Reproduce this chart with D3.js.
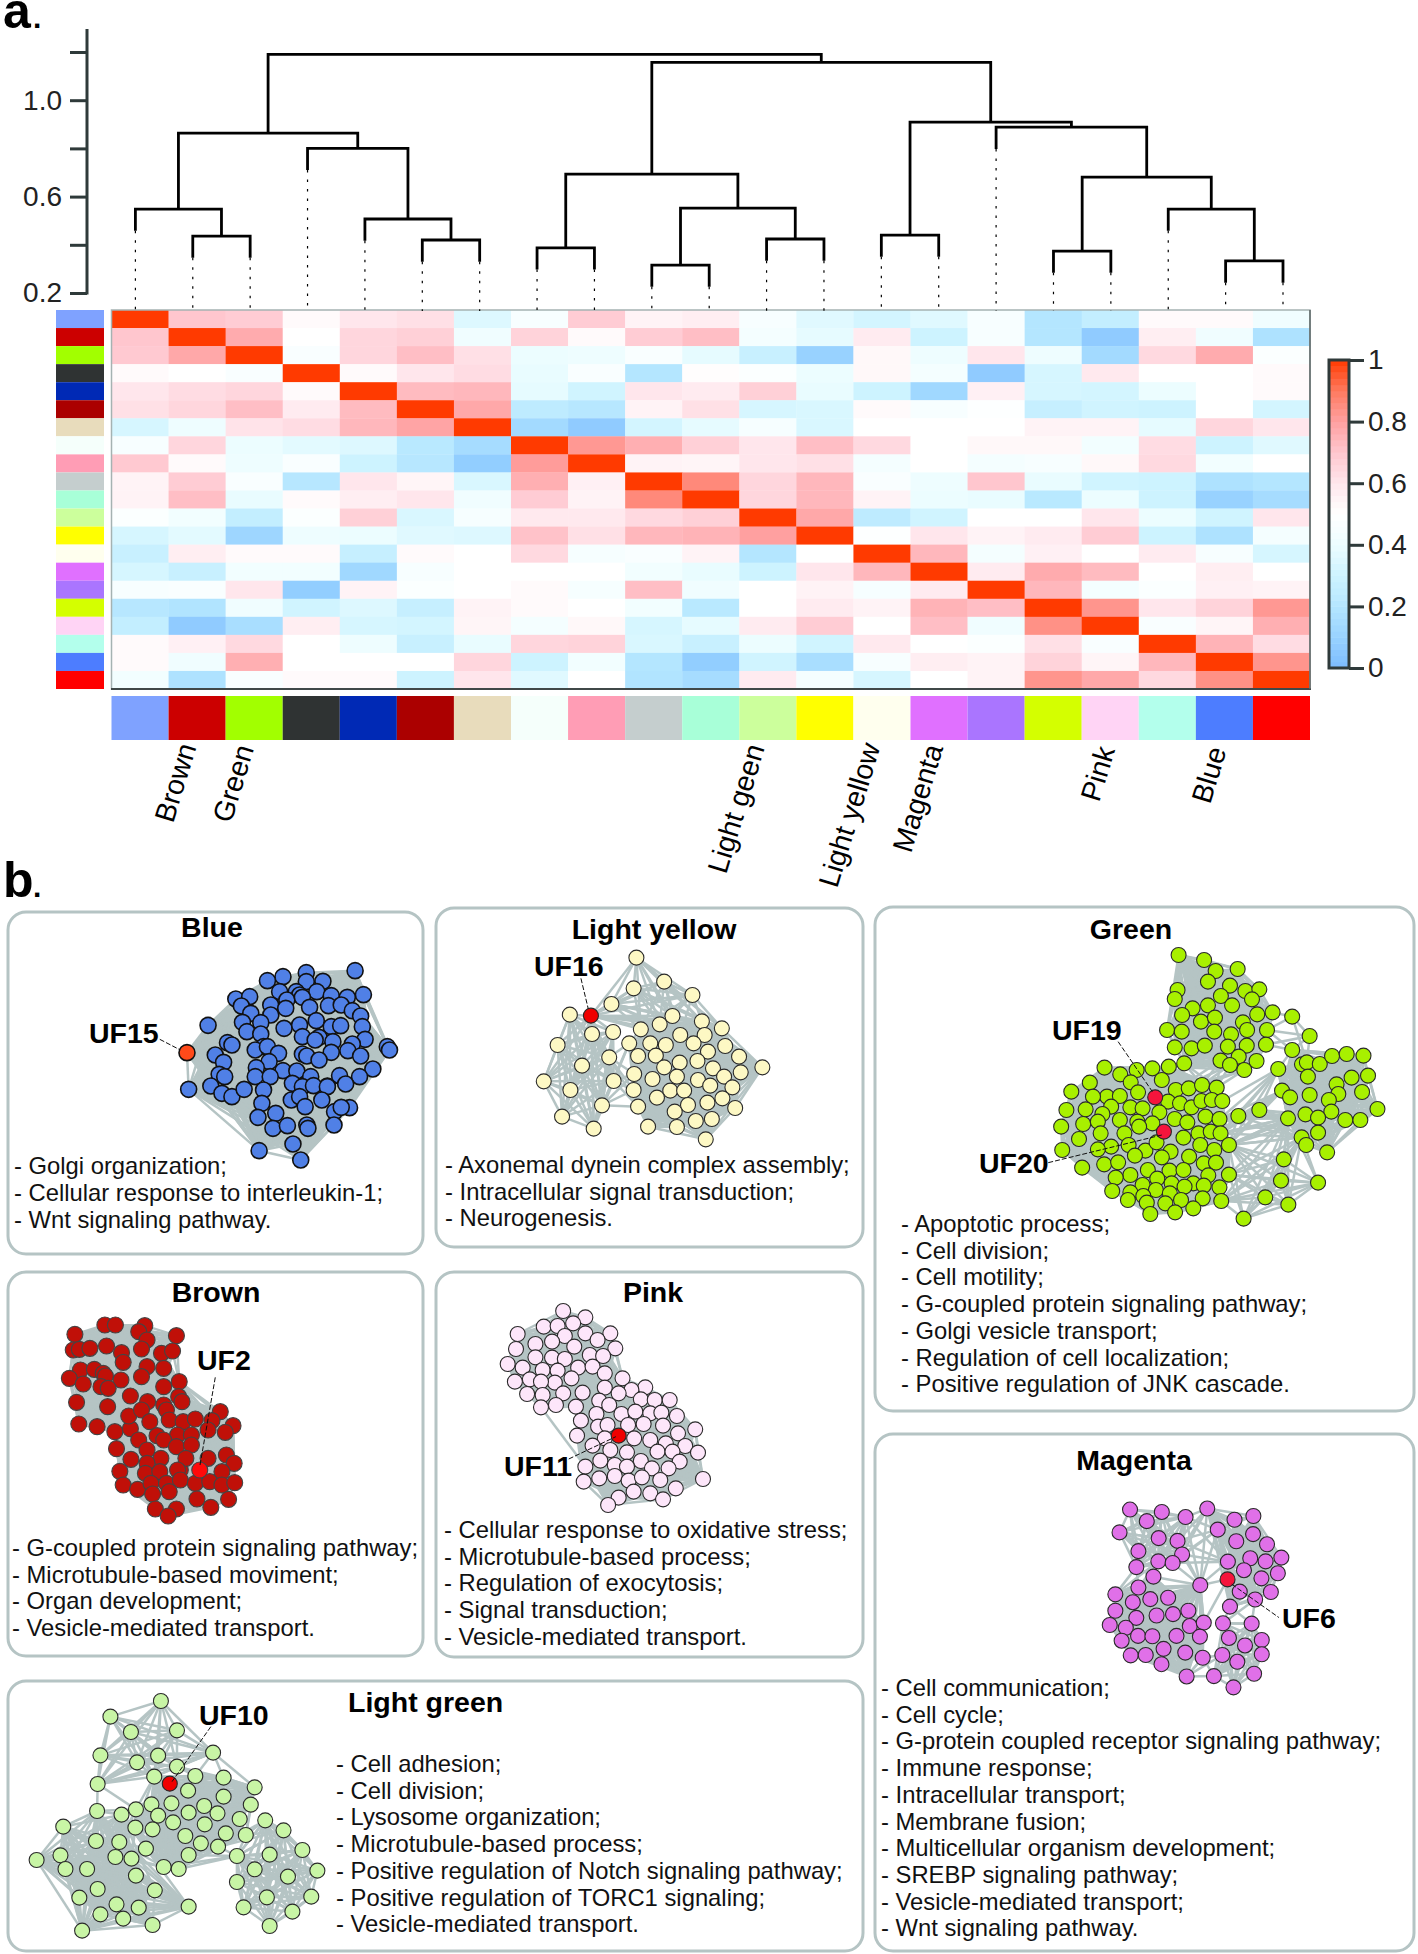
<!DOCTYPE html>
<html>

<head>
    <meta charset="utf-8">
    <style>
        html, body {
            margin: 0;
            background: white;
        }

        svg {
            display: block;
            font-family: "Liberation Sans", Arial, sans-serif;
        }
    </style>
</head>

<body>
    <svg width="1418" height="1954"></svg>

    <script src="https://d3js.org/d3.v7.min.js"></script>
    <script>
        // ---------- panel a data ----------
        const moduleColors = ["#7fa2ff", "#cc0000", "#a2ff00", "#2f3333", "#0029b5", "#ab0000", "#e8dcbc", "#f5fffb", "#ff9db5", "#c5cece", "#a8ffd8", "#ccff9c", "#ffff00", "#ffffee", "#e070ff", "#aa75ff", "#d4ff00", "#ffd4f5", "#b3ffec", "#4d7dff", "#ff0000"];

        const similarity = [
            [1, .7, .68, .52, .6, .62, .35, .46, .68, .55, .57, .46, .36, .32, .36, .46, .2, .26, .52, .52, .42],
            [.7, 1, .77, .5, .65, .67, .42, .66, .52, .68, .72, .44, .38, .58, .3, .46, .2, .07, .57, .42, .18],
            [.69, .78, 1, .47, .65, .72, .62, .4, .41, .47, .38, .28, .1, .53, .41, .6, .41, .14, .64, .77, .48],
            [.52, .5, .47, 1, .52, .6, .63, .39, .47, .2, .51, .48, .4, .53, .44, .07, .33, .59, .5, .5, .52],
            [.6, .63, .65, .52, 1, .73, .74, .38, .31, .6, .58, .67, .39, .3, .13, .56, .33, .32, .4, .5, .52],
            [.62, .65, .72, .58, .73, 1, .78, .24, .21, .55, .62, .33, .34, .52, .46, .49, .27, .31, .3, .5, .32],
            [.33, .41, .61, .63, .74, .79, 1, .14, .07, .32, .38, .45, .34, .5, .5, .5, .55, .55, .38, .65, .6],
            [.46, .65, .4, .37, .35, .22, .15, 1, .82, .76, .67, .6, .72, .64, .5, .53, .53, .43, .63, .3, .36],
            [.69, .52, .41, .47, .3, .21, .08, .81, 1, .55, .54, .6, .62, .44, .5, .44, .46, .53, .64, .43, .5],
            [.55, .68, .47, .21, .6, .54, .34, .76, .56, 1, .86, .65, .74, .47, .41, .7, .39, .31, .3, .18, .2],
            [.55, .72, .39, .52, .57, .6, .42, .68, .55, .86, 1, .65, .74, .55, .4, .39, .22, .4, .3, .1, .15],
            [.48, .43, .26, .48, .67, .34, .45, .59, .59, .64, .67, 1, .78, .24, .31, .5, .5, .6, .4, .31, .6],
            [.33, .37, .12, .41, .4, .36, .35, .71, .62, .74, .75, .8, 1, .49, .6, .55, .58, .68, .3, .18, .44],
            [.28, .57, .52, .52, .27, .52, .5, .64, .45, .47, .55, .2, .5, 1, .74, .44, .56, .5, .58, .46, .33],
            [.33, .28, .43, .43, .13, .46, .5, .5, .5, .43, .39, .3, .6, .74, 1, .58, .77, .73, .5, .57, .5],
            [.46, .47, .6, .08, .55, .48, .5, .52, .45, .72, .42, .5, .55, .45, .58, 1, .74, .44, .48, .56, .55],
            [.21, .19, .42, .31, .35, .27, .55, .52, .5, .43, .22, .5, .58, .55, .75, .72, 1, .83, .6, .66, .82],
            [.26, .07, .16, .57, .33, .32, .54, .44, .53, .33, .38, .58, .68, .5, .72, .42, .84, 1, .47, .54, .76],
            [.52, .56, .64, .5, .41, .28, .39, .65, .66, .34, .28, .4, .31, .59, .5, .48, .62, .47, 1, .75, .63],
            [.52, .42, .76, .5, .5, .5, .65, .3, .43, .2, .08, .31, .16, .46, .57, .55, .66, .54, .74, 1, .83],
            [.43, .18, .47, .52, .52, .3, .6, .36, .5, .19, .15, .58, .44, .33, .5, .55, .83, .78, .64, .84, 1]
        ];

        const colorStops = [0, .1, .2, .3, .4, .5, .6, .7, .8, .9, 1];
        const colorStopValues = ["#7cbcff", "#98d2ff", "#b4e6ff", "#cdf3ff", "#ecfdff", "#ffffff", "#ffe6ec", "#ffc6ce", "#ffa0a0", "#ff7a60", "#ff3a00"];
        const colorbarTicks = [0, .2, .4, .6, .8, 1];

        const heightTicks = [.2, .4, .6, .8, 1, 1.2];
        const heightTickLabels = ["0.2", "", "0.6", "", "1.0", ""];

        // merges: [left, right, height]; numbers are leaves (0-based), strings are earlier merges
        const merges = {
            A: [1, 2, .436],
            B: [0, "A", .548],
            C1: [5, 6, .42],
            C: [4, "C1", .507],
            D: [3, "C", .80],
            E: ["B", "D", .863],
            F: [7, 8, .387],
            G: [9, 10, .316],
            H: [11, 12, .424],
            I: ["G", "H", .552],
            J: ["F", "I", .693],
            K: [13, 14, .44],
            L: [16, 17, .374],
            M: [19, 20, .333],
            N: [18, "M", .548],
            O: ["L", "N", .681],
            P: [15, "O", .888],
            Q: ["K", "P", .909],
            R: ["J", "Q", 1.157],
            S: ["E", "R", 1.19]
        };

        const moduleNames = ["Brown", "Green", "Light geen", "Light yellow", "Magenta", "Pink", "Blue"];
        const moduleNameX = [173, 231, 726, 837, 911, 1099, 1210];
        const moduleNameY = [824, 824, 875, 889, 854, 803, 805];

        // ---------- panel b data ----------
        // node positions, in the units of each crop
        const blueNodes = [[
            [640, 272], [552, 278], [510, 290], [482, 302], [582, 304], [552, 305], [504, 335], [534, 335], [540, 345], [571, 335], [597, 347], [626, 352], [655, 344], [517, 360], [545, 352], [425, 357], [450, 350], [488, 375], [558, 382], [592, 377], [615, 375], [635, 392], [435, 378], [452, 400], [488, 405], [650, 408], [515, 385], [375, 436], [437, 427], [470, 428], [512, 445], [540, 435], [570, 422], [597, 440], [614, 437], [653, 440], [445, 455], [410, 488], [418, 495], [470, 462], [475, 500], [545, 470], [575, 472], [568, 480], [600, 485], [658, 478], [635, 492], [698, 500], [702, 510], [460, 510], [482, 500], [502, 520], [545, 522], [553, 528], [597, 517], [627, 512], [650, 528], [388, 525], [403, 547], [575, 540], [485, 545], [462, 563], [510, 572], [535, 573], [672, 567], [648, 590], [395, 583], [405, 590], [460, 590], [487, 590], [560, 590], [590, 618], [612, 587], [380, 618], [340, 628], [400, 640], [418, 650], [440, 628], [475, 630], [527, 610], [545, 620], [565, 617], [590, 620], [623, 612], [525, 660], [540, 650], [550, 680], [580, 660], [472, 670], [603, 695], [630, 683], [615, 682], [465, 712], [497, 700], [492, 745], [518, 737], [553, 735], [555, 745], [602, 735], [528, 792], [467, 812], [542, 840], [337, 518]
        ]];
        const blueMarked = [[337, 518]];

        const yellowNodes = [
            [[1147, 233], [1197, 305], [1142, 325], [1248, 345], [1102, 372], [1212, 408], [1265, 424], [1189, 433], [1155, 448], [1301, 445], [1226, 465], [1065, 407]],
            [[1027, 404], [1067, 462], [1005, 495], [1098, 532], [1049, 557], [980, 604], [1028, 630], [1106, 603], [1085, 676], [1013, 710], [1070, 746], [1105, 456], [1065, 407]],
            [[1155, 448], [1189, 433], [1226, 465], [1270, 465], [1265, 424], [1301, 445], [1134, 490], [1172, 490], [1200, 495], [1250, 490], [1307, 498], [1150, 528], [1182, 527], [1276, 515], [1332, 530], [1197, 562], [1225, 548], [1257, 543], [1285, 565], [1335, 577], [1374, 562], [1143, 582], [1176, 597], [1220, 590], [1258, 600], [1305, 590], [1280, 617], [1320, 622], [1142, 630], [1208, 632], [1233, 632], [1184, 653], [1240, 675], [1275, 668], [1302, 655], [1150, 680], [1325, 684], [1216, 695], [1254, 723], [1283, 717], [1168, 740], [1220, 741], [1272, 778]],
            [[1106, 603], [1098, 532], [1085, 676], [1134, 490], [1143, 582], [1142, 630], [1150, 680]]
        ];
        const yellowMarked = [[1065, 407]];

        const brownNodes = [
            [[135, 193], [189, 165], [208, 165], [261, 167], [318, 197], [250, 185], [265, 210], [132, 240], [143, 238], [162, 235], [192, 228], [219, 248], [255, 237], [291, 250], [311, 243], [222, 277], [265, 290], [295, 295], [145, 300], [170, 298], [125, 325], [150, 342], [186, 310], [190, 318], [218, 330], [255, 320], [182, 350], [195, 355], [295, 350], [323, 335], [138, 397], [194, 410], [142, 462], [175, 470], [207, 485], [235, 476], [235, 378], [232, 438], [266, 395], [255, 420]],
            [[295, 405], [322, 380], [328, 395], [397, 425], [300, 420], [270, 455], [305, 450], [330, 455], [352, 447], [382, 452], [420, 467], [406, 487], [375, 480], [320, 495], [283, 497], [295, 510], [345, 495], [318, 530], [345, 525], [250, 510], [210, 536], [236, 568], [265, 540], [290, 565], [265, 580], [325, 600], [335, 565], [375, 565], [408, 555], [422, 580], [400, 605], [216, 604], [262, 610], [288, 605], [320, 600], [222, 645], [248, 658], [272, 640], [300, 640], [325, 630], [352, 640], [378, 635], [400, 645], [423, 638], [275, 672], [305, 665], [355, 687], [412, 688], [380, 712], [280, 717], [318, 717], [303, 738], [360, 600], [235, 476], [232, 438], [207, 485], [323, 335]]
        ];
        const brownMarked = [[360, 600]];

        const pinkNodes = [
            [[1015, 123], [1055, 142], [1033, 160], [980, 170], [1005, 168], [933, 192], [1055, 190], [1018, 198], [1100, 190], [965, 222], [995, 215], [1035, 230], [1077, 210], [1109, 235], [930, 237], [965, 262], [995, 263], [1018, 267], [1063, 255], [1087, 258], [915, 282], [942, 293], [978, 300], [1005, 302], [1042, 293], [1068, 290], [1030, 325], [928, 335], [955, 328], [1000, 338], [975, 335], [1090, 310], [1122, 325], [1050, 368], [1015, 370], [950, 372], [978, 375], [1090, 353], [1002, 405], [975, 412], [1038, 410]],
            [[1163, 352], [1138, 360], [1115, 370], [1080, 392], [1155, 388], [1180, 390], [1207, 390], [1098, 405], [1075, 432], [1120, 432], [1145, 425], [1172, 430], [1192, 428], [1047, 452], [1078, 470], [1095, 465], [1160, 462], [1132, 465], [1195, 467], [1220, 438], [1253, 478], [1040, 497], [1090, 505], [1143, 505], [1172, 510], [1222, 490], [1200, 520], [1235, 528], [1068, 527], [1100, 540], [1130, 547], [1185, 545], [1212, 545], [1258, 548], [1155, 573], [1082, 572], [1055, 590], [1225, 575], [1205, 595], [1108, 585], [1130, 590], [1175, 595], [1080, 625], [1108, 618], [1133, 632], [1157, 622], [1190, 630], [1218, 655], [1267, 627], [1052, 635], [1115, 683], [1142, 665], [1172, 670], [1195, 688], [1096, 705], [1115, 497], [1090, 353], [1122, 325], [1050, 368], [1038, 410]],
            [[975, 412], [1055, 590]]
        ];
        const pinkMarked = [[1115, 497]];

        const lightGreenNodes = [
            [[290, 93], [199, 140], [236, 186], [319, 181], [181, 256], [247, 277], [285, 257], [319, 290], [176, 342], [278, 320], [384, 248]],
            [[352, 318], [403, 323], [339, 362], [403, 380], [459, 352], [452, 404], [273, 403], [245, 418], [309, 400], [368, 408], [340, 428], [392, 430], [285, 437], [312, 457], [369, 463], [432, 447], [244, 473], [275, 478], [407, 490], [443, 495], [334, 498], [362, 520], [393, 530], [263, 536], [340, 555], [295, 591], [322, 597], [306, 341], [278, 320]],
            [[478, 451], [511, 481], [545, 540], [427, 558], [486, 554], [459, 598], [572, 602], [519, 620], [427, 636], [481, 682], [561, 680], [439, 712], [527, 725], [486, 768]],
            [[175, 423], [219, 434], [114, 470], [173, 513], [215, 516], [109, 556], [208, 561], [237, 566], [66, 570], [118, 597], [157, 597], [245, 617], [176, 657], [279, 661], [143, 683], [210, 703], [250, 713], [340, 710], [181, 733], [222, 746], [275, 765], [148, 782]],
            [[384, 248], [403, 323], [459, 352], [319, 290], [352, 318]],
            [[176, 342], [175, 423], [245, 418]],
            [[219, 434], [245, 418], [244, 473], [263, 536], [237, 566], [295, 591], [208, 561], [215, 516]],
            [[443, 495], [478, 451], [511, 481], [427, 558], [393, 530]],
            [[322, 597], [427, 558], [295, 591], [340, 555]]
        ];
        const lightGreenMarked = [[306, 341]];

        const greenNodes = [
            [[883, 165], [956, 180], [1052, 207], [989, 213], [967, 245], [1030, 257], [880, 270], [872, 297], [1074, 273], [1114, 268], [1004, 288], [1093, 298], [967, 316], [1036, 316], [923, 325], [893, 345], [1152, 337], [1108, 343], [947, 365], [987, 353], [1067, 367], [1079, 390], [850, 390], [892, 395], [985, 395], [1136, 390], [1033, 403], [1133, 434], [1078, 437], [872, 442], [920, 445], [958, 437], [1024, 440], [899, 490], [1055, 470], [1003, 482], [1030, 495], [1106, 483], [1071, 510]],
            [[1208, 450], [1168, 507], [1236, 493], [1250, 487], [1287, 492], [1322, 468], [1364, 462], [1412, 467], [1253, 530], [1378, 533], [1425, 527], [1335, 553], [1179, 572], [1202, 592], [1340, 582], [1258, 585], [1408, 576], [1313, 600], [1452, 627], [1246, 643], [1320, 635], [1282, 653], [1360, 660], [1403, 660], [1196, 655], [1282, 698], [1235, 712], [1248, 735], [1308, 757]],
            [[671, 503], [716, 523], [763, 510], [808, 505], [855, 500], [746, 547], [835, 540], [629, 548], [576, 575], [678, 590], [715, 588], [767, 577], [875, 570], [912, 565], [950, 555], [992, 563], [638, 590], [690, 620], [745, 622], [853, 605], [887, 610], [920, 622], [948, 603], [978, 600], [1008, 603], [562, 630], [617, 628], [665, 642], [780, 625], [828, 637], [610, 672], [652, 665], [715, 660], [765, 665], [808, 670], [872, 657], [908, 667], [960, 650], [1000, 657], [547, 680], [660, 700], [728, 700], [770, 680], [940, 700], [975, 695], [1003, 700], [598, 717], [690, 740], [740, 735], [788, 752], [860, 755], [820, 727], [897, 713], [945, 735], [985, 750], [1027, 735], [550, 750], [652, 748], [758, 767], [835, 772], [913, 770], [607, 803], [670, 793], [710, 787], [795, 810], [857, 812], [897, 810], [955, 790], [990, 788], [745, 825], [703, 833], [822, 836], [968, 826], [1027, 824], [780, 855], [863, 850], [925, 850], [900, 860], [1000, 862], [955, 857], [693, 873], [745, 877], [818, 870], [858, 880], [782, 888], [738, 900], [952, 895], [890, 900], [1005, 903], [845, 910], [792, 908], [925, 925], [873, 937], [802, 942], [816, 592], [841, 695]],
            [[899, 490], [855, 500], [950, 555], [992, 563], [1030, 495], [1071, 510], [1003, 482], [875, 570]],
            [[1000, 657], [1003, 700], [1027, 735], [1054, 648], [1114, 630], [1196, 655], [1246, 643], [1282, 653], [1235, 712], [1179, 572], [1168, 507]],
            [[1008, 603], [1168, 507]],
            [[1184, 778], [1176, 842], [1282, 848], [1131, 892], [1197, 914], [1069, 956], [1027, 824], [1005, 903], [1027, 735], [1235, 712], [1196, 655]],
            [[1136, 390], [1208, 350], [1258, 408], [1250, 487]],
            [[1152, 337], [1208, 350]],
            [[1133, 434], [1258, 408], [1208, 450]]
        ];
        const greenMarked = [[816, 592], [841, 695]];

        const magentaNodes = [
            [[744, 263], [835, 270], [792, 297], [903, 285], [714, 330], [826, 347], [880, 355], [768, 385], [893, 395], [825, 415], [866, 420], [762, 432]],
            [[965, 260], [1043, 293], [1097, 282], [995, 322], [1048, 356], [1096, 335], [1136, 365], [1024, 416], [1088, 406], [1132, 415], [1177, 404], [1070, 441], [1167, 450], [1120, 465], [1147, 505], [1058, 504], [1102, 527], [1030, 548], [1023, 468]],
            [[811, 460], [945, 485], [768, 492], [702, 512], [752, 535], [802, 526], [853, 522], [702, 560], [762, 581], [820, 574], [867, 570], [911, 560], [686, 602], [732, 610], [915, 605], [955, 595], [767, 634], [808, 635], [877, 634], [944, 636], [720, 648], [840, 672], [902, 683], [746, 691], [789, 690], [952, 698], [834, 717], [906, 753]],
            [[1010, 597], [1092, 598], [1027, 640], [1121, 646], [1073, 662], [1008, 690], [1121, 688], [1051, 710], [1099, 745], [984, 752], [1040, 785]],
            [[880, 355], [893, 395], [866, 420], [903, 285], [965, 260], [995, 322], [1024, 416], [945, 485]],
            [[762, 432], [825, 415], [811, 460], [768, 492], [702, 512]],
            [[1030, 548], [1102, 527], [1010, 597], [1092, 598]],
            [[945, 485], [1023, 468], [955, 595]],
            [[952, 698], [906, 753], [984, 752], [1008, 690]]
        ];
        const magentaMarked = [[1023, 468]];

        const blueTerms = ["- Golgi organization;", "- Cellular response to interleukin-1;", "- Wnt signaling pathway."];
        const yellowTerms = ["- Axonemal dynein complex assembly;", "- Intracellular signal transduction;", "- Neurogenesis."];
        const brownTerms = ["- G-coupled protein signaling pathway;", "- Microtubule-based moviment;", "- Organ development;", "- Vesicle-mediated transport."];
        const pinkTerms = ["- Cellular response to oxidative stress;", "- Microtubule-based process;", "- Regulation of exocytosis;", "- Signal transduction;", "- Vesicle-mediated transport."];
        const lightGreenTerms = ["- Cell adhesion;", "- Cell division;", "- Lysosome organization;", "- Microtubule-based process;", "- Positive regulation of Notch signaling pathway;", "- Positive regulation of TORC1 signaling;", "- Vesicle-mediated transport."];
        const greenTerms = ["- Apoptotic process;", "- Cell division;", "- Cell motility;", "- G-coupled protein signaling pathway;", "- Golgi vesicle transport;", "- Regulation of cell localization;", "- Positive regulation of JNK cascade."];
        const magentaTerms = ["- Cell communication;", "- Cell cycle;", "- G-protein coupled receptor signaling pathway;", "- Immune response;", "- Intracellular transport;", "- Membrane fusion;", "- Multicellular organism development;", "- SREBP signaling pathway;", "- Vesicle-mediated transport;", "- Wnt signaling pathway."];

        const svg = d3.select("svg");
        const gridColor = "#b5c4c4";
        const axisColor = "#2f3a3a";

        // panel letters
        svg.append("text").text("a").attr("x", 3).attr("y", 28).attr("font-size", 50).attr("font-weight", "bold");
        svg.append("text").text(".").attr("x", 33).attr("y", 28).attr("font-size", 30).attr("font-weight", "bold");
        svg.append("text").text("b").attr("x", 3).attr("y", 897).attr("font-size", 50).attr("font-weight", "bold");
        svg.append("text").text(".").attr("x", 33).attr("y", 897).attr("font-size", 30).attr("font-weight", "bold");

        // ---------- heatmap ----------
        const moduleIndex = d3.range(moduleColors.length);
        const cellX = d3.scaleBand().domain(moduleIndex).range([111.5, 1310]);
        const cellY = d3.scaleBand().domain(moduleIndex).range([310, 689]);
        const heatColor = d3.scaleLinear().domain(colorStops).range(colorStopValues);

        svg.append("g")
            .selectAll("g")
            .data(similarity)
            .join("g")
            .each(function (row, i) {
                d3.select(this)
                    .selectAll("rect")
                    .data(row)
                    .join("rect")
                    .attr("x", (d, j) => cellX(j))
                    .attr("y", cellY(i))
                    .attr("width", cellX.bandwidth() + 0.3)
                    .attr("height", cellY.bandwidth() + 0.3)
                    .attr("fill", d => heatColor(d))
            })

        svg.append("rect")
            .attr("x", 111.5).attr("y", 310).attr("width", 1198.5).attr("height", 379)
            .attr("fill", "none").attr("stroke", "#a5b2b2").attr("stroke-width", 1.5)
        svg.append("line")
            .attr("x1", 111).attr("x2", 1311).attr("y1", 689).attr("y2", 689)
            .attr("stroke", "#404848").attr("stroke-width", 2)
        svg.append("line")
            .attr("x1", 1310).attr("x2", 1310).attr("y1", 310).attr("y2", 689)
            .attr("stroke", "#5c6666").attr("stroke-width", 1.5)

        // left and bottom colour strips
        svg.append("g")
            .selectAll("rect")
            .data(moduleColors)
            .join("rect")
            .attr("x", 56)
            .attr("y", (d, i) => cellY(i))
            .attr("width", 48)
            .attr("height", cellY.bandwidth())
            .attr("fill", d => d)

        svg.append("g")
            .selectAll("rect")
            .data(moduleColors)
            .join("rect")
            .attr("x", (d, i) => cellX(i))
            .attr("y", 696)
            .attr("width", cellX.bandwidth())
            .attr("height", 44)
            .attr("fill", d => d)

        // module names
        svg.append("g")
            .selectAll("text")
            .data(moduleNames)
            .join("text")
            .text(d => d)
            .attr("transform", (d, i) => `translate(${moduleNameX[i]},${moduleNameY[i]}) rotate(-73)`)
            .attr("font-size", 28.5)

        // ---------- colour bar ----------
        const barY = d3.scaleLinear().domain([0, 1]).range([668, 360]);
        svg.append("g")
            .selectAll("rect")
            .data(d3.range(0, 1, 0.02))
            .join("rect")
            .attr("x", 1329)
            .attr("y", d => barY(d + 0.02))
            .attr("width", 20)
            .attr("height", barY(0) - barY(0.02) + 0.5)
            .attr("fill", d => heatColor(d + 0.01))

        svg.append("rect")
            .attr("x", 1329).attr("y", barY(1)).attr("width", 20).attr("height", barY(0) - barY(1))
            .attr("fill", "none").attr("stroke", axisColor).attr("stroke-width", 3)

        const barAxis = svg.append("g")
            .attr("transform", "translate(1349,0)")
            .call(d3.axisRight(barY).tickValues(colorbarTicks).tickFormat(d3.format("~g")).tickSize(15).tickPadding(4))
        barAxis.select(".domain").remove()
        barAxis.selectAll("line").attr("stroke", axisColor).attr("stroke-width", 3)
        barAxis.selectAll("text").attr("font-size", 28).attr("font-family", "Liberation Sans").attr("fill", "#222")

        // ---------- dendrogram ----------
        const heightY = d3.scaleLinear().domain([.2, 1.2]).range([293, 52]);
        const heightAxis = svg.append("g")
            .attr("transform", "translate(87,0)")
            .call(d3.axisLeft(heightY).tickValues(heightTicks).tickFormat((d, i) => heightTickLabels[i]).tickSize(17).tickPadding(8))
        heightAxis.select(".domain").remove()
        heightAxis.selectAll("line").attr("stroke", axisColor).attr("stroke-width", 3)
        heightAxis.selectAll("text").attr("font-size", 28).attr("font-family", "Liberation Sans").attr("fill", "#222")
        svg.append("line")
            .attr("x1", 87).attr("x2", 87).attr("y1", 29).attr("y2", 294.5)
            .attr("stroke", axisColor).attr("stroke-width", 3)

        const leafX = d3.scalePoint().domain(moduleIndex).range([135.4, 1283]);
        const hang = 0.09;
        const dendroPath = d3.path();
        const dotted = [];
        const nodeX = {};

        function childPoint(child, parentHeight) {
            if (typeof child === "number") {
                dotted.push([leafX(child), heightY(parentHeight - hang)]);
                return [leafX(child), parentHeight - hang];
            }
            return [nodeX[child], merges[child][2]];
        }

        Object.keys(merges).forEach(key => {
            const [left, right, h] = merges[key];
            const a = childPoint(left, h);
            const b = childPoint(right, h);
            nodeX[key] = (a[0] + b[0]) / 2;
            dendroPath.moveTo(a[0], heightY(a[1]));
            dendroPath.lineTo(a[0], heightY(h));
            dendroPath.lineTo(b[0], heightY(h));
            dendroPath.lineTo(b[0], heightY(b[1]));
        });

        svg.append("path")
            .attr("d", dendroPath.toString())
            .attr("fill", "none")
            .attr("stroke", "black")
            .attr("stroke-width", 2.8)
            .attr("stroke-linejoin", "miter")

        svg.append("g")
            .selectAll("line")
            .data(dotted)
            .join("line")
            .attr("x1", d => d[0]).attr("x2", d => d[0])
            .attr("y1", d => d[1]).attr("y2", 311)
            .attr("stroke", "black")
            .attr("stroke-width", 1.2)
            .attr("stroke-dasharray", "2.5 7")

        // ---------- network panels ----------
        function drawPanel(p) {
            const g = svg.append("g");
            g.append("rect")
                .attr("x", p.box[0]).attr("y", p.box[1])
                .attr("width", p.box[2] - p.box[0]).attr("height", p.box[3] - p.box[1])
                .attr("rx", 18)
                .attr("fill", "white")
                .attr("stroke", gridColor)
                .attr("stroke-width", 3)

            const x = d3.scaleLinear().domain([0, 1568]).range([p.crop[0], p.crop[0] + p.crop[1]]);
            const y = d3.scaleLinear().domain([0, p.crop[4]]).range([p.crop[2], p.crop[2] + p.crop[3]]);

            const links = [];
            p.nodes.forEach(group => {
                group.forEach((a, i) => {
                    group.slice(i + 1).forEach(b => links.push([a, b]));
                });
            });

            g.append("g")
                .selectAll("line")
                .data(links)
                .join("line")
                .attr("x1", d => x(d[0][0])).attr("y1", d => y(d[0][1]))
                .attr("x2", d => x(d[1][0])).attr("y2", d => y(d[1][1]))
                .attr("stroke", gridColor)
                .attr("stroke-width", 2.5)

            // nodes can sit in more than one group
            const unique = d3.groups(p.nodes.flat(), d => d.join(",")).map(d => d[1][0])
                .filter(d => !p.marked.some(m => m[0] === d[0] && m[1] === d[1]));

            const circleData = unique.concat(p.marked);
            g.append("g")
                .selectAll("circle")
                .data(circleData)
                .join("circle")
                .attr("cx", d => x(d[0]))
                .attr("cy", d => y(d[1]))
                .attr("r", p.radius || 7.5)
                .attr("fill", d => p.marked.includes(d) ? p.markColor : p.color)
                .attr("stroke", p.nodeStroke || "#2a2a2a")
                .attr("stroke-width", p.strokeWidth || 1.1)

            g.append("text")
                .text(p.title)
                .attr("x", p.titleAt[0]).attr("y", p.titleAt[1])
                .attr("text-anchor", p.titleAnchor || "middle")
                .attr("font-size", 28.5)
                .attr("font-weight", "bold")

            g.append("g")
                .selectAll("text")
                .data(p.terms)
                .join("text")
                .text(d => d)
                .attr("x", p.termsAt[0])
                .attr("y", (d, i) => p.termsAt[1] + i * p.termStep)
                .attr("font-size", 23.8)
                .attr("fill", "#111")

            p.labels.forEach(l => {
                g.append("text")
                    .text(l.text)
                    .attr("x", l.x).attr("y", l.y)
                    .attr("font-size", 28.5)
                    .attr("font-weight", "bold")
                g.append("line")
                    .attr("x1", x(l.from[0])).attr("y1", y(l.from[1]))
                    .attr("x2", x(l.to[0])).attr("y2", y(l.to[1]))
                    .attr("stroke", "#111")
                    .attr("stroke-width", 1)
                    .attr("stroke-dasharray", "5 2")
            });
        }

        const panels = [
            {
                title: "Blue", box: [8, 912, 423, 1254], crop: [0, 870, 880, 400, 1200],
                nodes: blueNodes, marked: blueMarked, color: "#5080e6", markColor: "#ff4a1a", strokeWidth: 1.6, nodeStroke: "#111", radius: 8,
                titleAt: [212, 937], terms: blueTerms, termsAt: [14, 1174], termStep: 26.8,
                labels: [{ text: "UF15", x: 89, y: 1043, from: [288, 478], to: [325, 510] }]
            },
            {
                title: "Light yellow", box: [436, 908, 863, 1247], crop: [0, 870, 880, 400, 1200],
                nodes: yellowNodes, marked: yellowMarked, color: "#fdf8c4", markColor: "#f00000",
                titleAt: [654, 939], terms: yellowTerms, termsAt: [445, 1173], termStep: 26.6,
                labels: [{ text: "UF16", x: 534, y: 976, from: [1047, 295], to: [1060, 385] }]
            },
            {
                title: "Brown", box: [8, 1272, 423, 1656], crop: [0, 870, 1270, 400, 1200],
                nodes: brownNodes, marked: brownMarked, color: "#c01008", markColor: "#ff0a0a", nodeStroke: "#444", radius: 8,
                titleAt: [216, 1302], terms: brownTerms, termsAt: [12, 1556], termStep: 26.7,
                labels: [{ text: "UF2", x: 197, y: 1370, from: [388, 322], to: [360, 590] }]
            },
            {
                title: "Pink", box: [436, 1272, 863, 1657], crop: [0, 870, 1270, 400, 1200],
                nodes: pinkNodes, marked: pinkMarked, color: "#fde6fa", markColor: "#f00000",
                titleAt: [653, 1302], terms: pinkTerms, termsAt: [444, 1538], termStep: 26.7,
                labels: [{ text: "UF11", x: 504, y: 1476, from: [1025, 567], to: [1110, 500] }]
            },
            {
                title: "Light green", box: [8, 1681, 863, 1951], crop: [0, 870, 1670, 284, 852],
                nodes: lightGreenNodes, marked: lightGreenMarked, color: "#c8f5a5", markColor: "#f00000",
                titleAt: [348, 1712], titleAnchor: "start", terms: lightGreenTerms, termsAt: [336, 1772], termStep: 26.7,
                labels: [{ text: "UF10", x: 199, y: 1725, from: [380, 170], to: [310, 335] }]
            },
            {
                title: "Green", box: [875, 907, 1414, 1411], crop: [870, 548, 900, 520, 1560],
                nodes: greenNodes, marked: greenMarked, color: "#a8f000", markColor: "#f5143c",
                titleAt: [1131, 939], terms: greenTerms, termsAt: [901, 1232], termStep: 26.7,
                labels: [
                    { text: "UF19", x: 1052, y: 1040, from: [710, 425], to: [808, 575] },
                    { text: "UF20", x: 979, y: 1173, from: [510, 788], to: [835, 705] }
                ]
            },
            {
                title: "Magenta", box: [875, 1434, 1414, 1951], crop: [870, 548, 1420, 534, 1568],
                nodes: magentaNodes, marked: magentaMarked, color: "#e070e8", markColor: "#f5143c",
                titleAt: [1134, 1470], terms: magentaTerms, termsAt: [881, 1696], termStep: 26.7,
                labels: [{ text: "UF6", x: 1282, y: 1628, from: [1035, 482], to: [1170, 580] }]
            }
        ];

        panels.forEach(drawPanel);
    </script>
</body>

</html>
